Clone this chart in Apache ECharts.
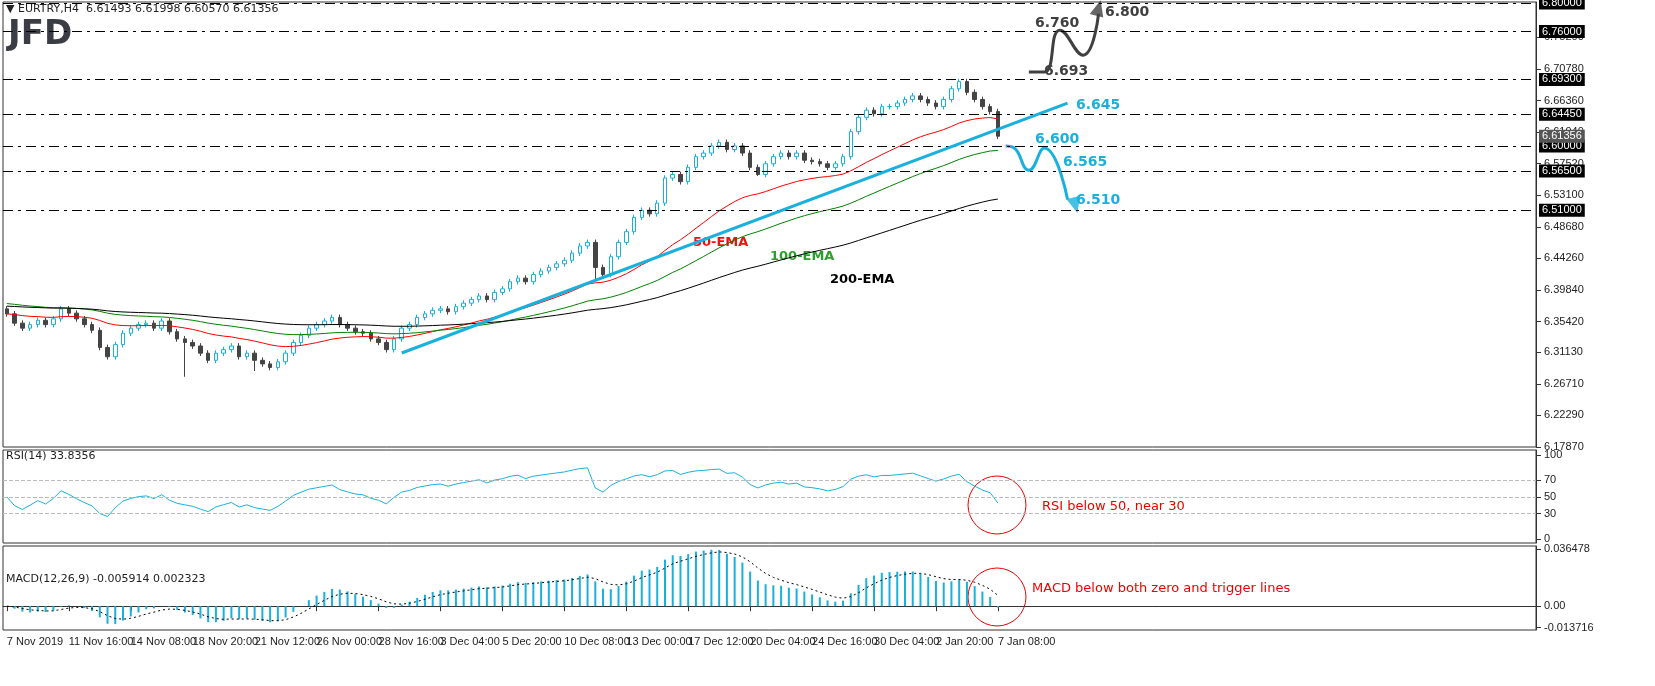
<!DOCTYPE html>
<html>
<head>
<meta charset="utf-8">
<script src="https://cdn.jsdelivr.net/npm/echarts@6/dist/echarts.min.js"></script>
<style>html,body{margin:0;padding:0;background:#fff}#main{width:1655px;height:686px}</style>
</head>
<body>
<div id="main"></div>
<script>
// 8-hour candles, 7 Nov 2019 -> 7 Jan 2020
const closes = [
  6.365,6.352,6.345,6.350,6.356,6.350,6.358,6.372,
  6.366,6.358,6.350,6.342,6.318,6.305,6.322,6.338,
  6.345,6.350,6.352,6.345,6.355,6.340,6.330,6.325,
  6.320,6.310,6.300,6.310,6.315,6.320,6.305,6.310,
  6.300,6.295,6.290,6.298,6.310,6.325,6.335,6.345,
  6.350,6.355,6.360,6.350,6.345,6.340,6.338,6.330,
  6.325,6.315,6.330,6.345,6.350,6.360,6.365,6.370,
  6.372,6.368,6.375,6.380,6.385,6.390,6.385,6.395,
  6.400,6.410,6.415,6.410,6.420,6.425,6.430,6.435,
  6.440,6.450,6.460,6.465,6.430,6.420,6.445,6.465,
  6.480,6.500,6.510,6.505,6.520,6.555,6.560,6.550,
  6.570,6.585,6.590,6.600,6.605,6.595,6.600,6.590,
  6.570,6.560,6.575,6.585,6.590,6.585,6.590,6.580,
  6.578,6.575,6.570,6.575,6.585,6.620,6.640,6.650,
  6.645,6.655,6.655,6.660,6.665,6.670,6.665,6.660,
  6.655,6.665,6.680,6.690,6.675,6.665,6.655,6.648,
  6.61356
];
const firstOpen = 6.372;
const wick = 0.004;
const lowSpikes = {23: 6.277, 32: 6.285, 76: 6.412, 97: 6.558};
const dateLabels = ['7 Nov 2019','11 Nov 16:00','14 Nov 08:00','18 Nov 20:00','21 Nov 12:00','26 Nov 00:00',
  '28 Nov 16:00','3 Dec 04:00','5 Dec 20:00','10 Dec 08:00','13 Dec 00:00','17 Dec 12:00','20 Dec 04:00',
  '24 Dec 16:00','30 Dec 04:00','2 Jan 20:00','7 Jan 08:00'];
const levels = [6.800, 6.760, 6.693, 6.6445, 6.600, 6.565, 6.510];
const lastPrice = 6.61356;
const priceTicks = [6.1787,6.2229,6.2671,6.3113,6.3542,6.3984,6.4426,6.4868,6.5310,6.5752,6.6194,6.6636,6.7078,6.7520];
const emaSeeds = {e50: 6.365, e100: 6.380, e200: 6.376};
const slots = 198;

const cats = [];
for (let i = 0; i < slots; i++) cats.push(i % 8 === 0 && i / 8 < dateLabels.length ? dateLabels[i / 8] : '');

const ohlc = closes.map((c, i) => {
  const o = i === 0 ? firstOpen : closes[i - 1];
  const lo = lowSpikes[i] !== undefined ? lowSpikes[i] : Math.min(o, c) - wick;
  return [o, c, lo, Math.max(o, c) + wick];
});

function ema(src, n, seed) {
  const k = 2 / (n + 1); let v = seed;
  return src.map(x => (v = v + k * (x - v)));
}
const e50 = ema(closes, 25, emaSeeds.e50);
const e100 = ema(closes, 50, emaSeeds.e100);
const e200 = ema(closes, 100, emaSeeds.e200);

// RSI (Wilder) on the 8h closes
const rsi = []; let ag = 0.002, al = 0.002;
closes.forEach((c, i) => {
  const d = i === 0 ? 0 : c - closes[i - 1];
  ag = (ag * 13 + Math.max(d, 0)) / 14; al = (al * 13 + Math.max(-d, 0)) / 14;
  rsi.push(100 - 100 / (1 + ag / al));
});
const fast = ema(closes, 7, closes[0]), slow = ema(closes, 15, closes[0]);
const macd = fast.map((f, i) => f - slow[i]);
const signal = ema(macd, 5, 0);

const blue = '#1ab0dc';
const dash = [10, 5, 3, 5];
const chart = echarts.init(document.getElementById('main'));
const font = 'Tahoma, "DejaVu Sans", sans-serif';
const labelFont = '"Liberation Sans", Arial, sans-serif';

const xAx = (gi, show) => ({
  type: 'category', data: cats, gridIndex: gi, boundaryGap: true,
  axisLine: {show: show, lineStyle: {color: '#333'}},
  axisTick: {show: show, alignWithLabel: true, interval: i => cats[i] !== '', lineStyle: {color: '#333'}},
  axisLabel: {show: show, interval: i => cats[i] !== '', showMinLabel: true, hideOverlap: false,
    color: '#222', fontSize: 11, fontFamily: labelFont, align: 'left', margin: 6},
  splitLine: {show: false}
});
const yBase = {position: 'right', scale: true, axisLine: {show: true, lineStyle: {color: '#333'}},
  splitLine: {show: false}};

const annot = (t, x, y, color, size) => ({type: 'text', left: x, top: y,
  style: {text: t, fill: color, font: 'bold ' + (size || 13) + 'px Tahoma, "DejaVu Sans", sans-serif'}});

const lvlLabel = (v, bg) => ({position: 'end', distance: 3, color: '#fff', backgroundColor: bg || '#000', padding: [1, 3],
  fontSize: 11, fontFamily: labelFont, formatter: v.toFixed(5)});

chart.setOption({
  animation: false,
  grid: [
    {left: 3, width: 1533, top: 2, height: 445, show: true, borderColor: '#333', borderWidth: 1},
    {left: 3, width: 1533, top: 450, height: 93, show: true, borderColor: '#333', borderWidth: 1},
    {left: 3, width: 1533, top: 546, height: 84, show: true, borderColor: '#333', borderWidth: 1}
  ],
  xAxis: [xAx(0, false), xAx(1, false), xAx(2, true)],
  yAxis: [
    Object.assign({}, yBase, {gridIndex: 0, min: 6.1787, max: 6.8014,
      axisTick: {show: true, customValues: priceTicks, lineStyle: {color: '#333'}},
      axisLabel: {customValues: priceTicks, formatter: v => v.toFixed(5), color: '#222', fontSize: 11, fontFamily: labelFont}}),
    Object.assign({}, yBase, {gridIndex: 1, min: -5, max: 106,
      axisTick: {show: true, customValues: [0, 30, 50, 70, 100], lineStyle: {color: '#333'}},
      axisLabel: {customValues: [0, 30, 50, 70, 100], color: '#222', fontSize: 11, fontFamily: labelFont}}),
    Object.assign({}, yBase, {gridIndex: 2, min: -0.0152, max: 0.0383,
      axisTick: {show: true, customValues: [-0.013716, 0, 0.036478], lineStyle: {color: '#333'}},
      axisLabel: {customValues: [-0.013716, 0, 0.036478], color: '#222', fontSize: 11, fontFamily: labelFont,
        formatter: v => v === 0 ? '0.00' : v.toFixed(6)}})
  ],
  series: [
    {type: 'candlestick', data: ohlc, barWidth: 4,
      itemStyle: {color: '#fff', color0: '#444', borderColor: blue, borderColor0: '#444', borderWidth: 1},
      markLine: {symbol: 'none', silent: true, precision: 5, z: 10,
        lineStyle: {color: '#000', type: dash, width: 1},
        data: levels.map(v => ({yAxis: v, label: lvlLabel(v)})).concat([
          {yAxis: lastPrice, lineStyle: {width: 0, color: 'rgba(0,0,0,0)'}, label: lvlLabel(lastPrice, '#555')},
          [{coord: [50.9, 6.3102], lineStyle: {color: blue, width: 3, type: 'solid'}, label: {show: false}},
           {coord: [137, 6.660]}]
        ])}},
    {type: 'line', data: e50, showSymbol: false, lineStyle: {color: '#f00', width: 1}},
    {type: 'line', data: e100, showSymbol: false, lineStyle: {color: '#008000', width: 1}},
    {type: 'line', data: e200, showSymbol: false, lineStyle: {color: '#000', width: 1}},
    {type: 'line', smooth: 0.5, showSymbol: false, lineStyle: {color: '#404040', width: 3},
      data: [[132.4, 6.7034], [134.0, 6.7034], [136.4, 6.762], [138.6, 6.727], [140.8, 6.785]]},
    {type: 'scatter', data: [[141.2, 6.793]], symbol: 'triangle', symbolSize: [14, 16], symbolRotate: -15,
      itemStyle: {color: '#404040'}},
    {type: 'line', smooth: 0.5, showSymbol: false, lineStyle: {color: blue, width: 3},
      data: [[128.9, 6.600], [130.4, 6.598], [132.1, 6.566], [134.4, 6.597], [137.2, 6.525]]},
    {type: 'scatter', data: [[137.6, 6.517]], symbol: 'triangle', symbolSize: [14, 16], symbolRotate: 195,
      itemStyle: {color: blue}},
    {type: 'line', xAxisIndex: 1, yAxisIndex: 1, data: rsi, showSymbol: false, lineStyle: {color: blue, width: 1},
      markLine: {symbol: 'none', silent: true, label: {show: false},
        lineStyle: {color: '#bbb', type: 'dashed', width: 1}, data: [{yAxis: 30}, {yAxis: 50}, {yAxis: 70}]}},
    {type: 'bar', xAxisIndex: 2, yAxisIndex: 2, data: macd, barWidth: 2, itemStyle: {color: blue}},
    {type: 'line', xAxisIndex: 2, yAxisIndex: 2, data: signal, showSymbol: false,
      lineStyle: {color: '#000', width: 1, type: [2, 3]}}
  ],
  graphic: [
    {type: 'text', left: 6, top: 4, style: {text: '\u25BC EURTRY,H4  6.61493 6.61998 6.60570 6.61356', fill: '#222', font: '11px Tahoma, "DejaVu Sans", sans-serif'}},
    {type: 'text', left: 8, top: 18, style: {text: 'JFD', fill: '#3a3d44', font: 'bold 34px "DejaVu Sans", sans-serif'}},
    annot('6.760', 1035, 16, '#404040', 14), annot('6.693', 1044, 64, '#404040', 14), annot('6.800', 1105, 5, '#404040', 14),
    annot('6.645', 1076, 98, blue, 14), annot('6.600', 1035, 132, blue, 14), annot('6.565', 1063, 155, blue, 14),
    annot('6.510', 1076, 193, blue, 14),
    annot('50-EMA', 693, 236, '#f01010'), annot('100-EMA', 770, 250, '#2ca02c'), annot('200-EMA', 830, 273, '#000'),
    {type: 'text', left: 6, top: 451, style: {text: 'RSI(14) 33.8356', fill: '#222', font: '11px Tahoma, "DejaVu Sans", sans-serif'}},
    {type: 'text', left: 6, top: 574, style: {text: 'MACD(12,26,9) -0.005914 0.002323', fill: '#222', font: '11px Tahoma, "DejaVu Sans", sans-serif'}},
    {type: 'circle', shape: {cx: 997, cy: 505, r: 29}, style: {fill: 'none', stroke: '#e00', lineWidth: 1}},
    {type: 'circle', shape: {cx: 997, cy: 597, r: 29}, style: {fill: 'none', stroke: '#e00', lineWidth: 1}},
    {type: 'text', left: 1042, top: 500, style: {text: 'RSI below 50, near 30', fill: '#e00', font: '13px Tahoma, "DejaVu Sans", sans-serif'}},
    {type: 'text', left: 1032, top: 582, style: {text: 'MACD below both zero and trigger lines', fill: '#e00', font: '13px Tahoma, "DejaVu Sans", sans-serif'}}
  ]
});
</script>
</body>
</html>
